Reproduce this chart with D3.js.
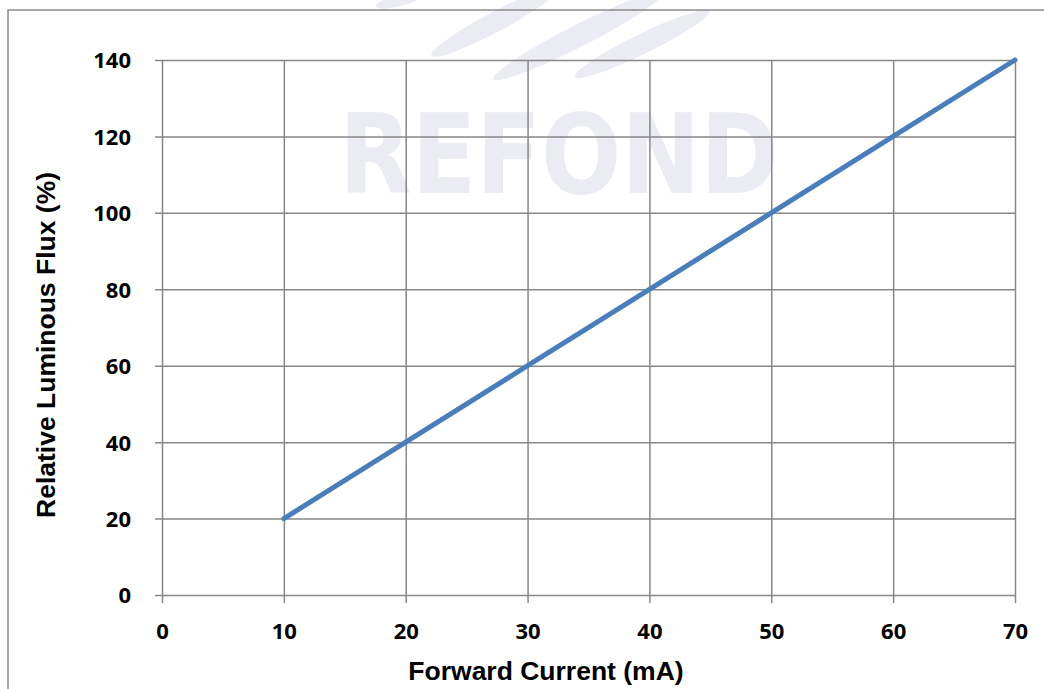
<!DOCTYPE html>
<html>
<head>
<meta charset="utf-8">
<script src="https://cdn.jsdelivr.net/npm/d3@7"></script>
<style>
  body { margin: 0; background: #fff; }
  svg { display: block; }
</style>
</head>
<body>
<div id="chart"></div>
<script>
// data
var currents = [10, 20, 30, 40, 50, 60, 70];        // Forward Current (mA)
var fluxValues = [20, 40, 60, 80, 100, 120, 140];   // Relative Luminous Flux (%)
var xTicks = [0, 10, 20, 30, 40, 50, 60, 70];
var yTicks = [0, 20, 40, 60, 80, 100, 120, 140];
var xTitle = "Forward Current (mA)";
var yTitle = "Relative Luminous Flux (%)";
var watermark = "REFOND";

var width = 1044, height = 689;
var margin = {top: 60, right: 29, bottom: 94, left: 162};

var svg = d3.select("#chart").append("svg")
    .attr("width", width)
    .attr("height", height);

//Watermark behind everything
var wm = svg.append("g").attr("fill", "#ebebf3");
wm.append("text")
    .attr("x", 339).attr("y", 193)
    .attr("textLength", 440)
    .attr("lengthAdjust", "spacingAndGlyphs")
    .style("font-family", "'DejaVu Sans Condensed', 'DejaVu Sans', sans-serif")
    .style("font-weight", "bold")
    .style("font-size", "110px")
    .text(watermark);
//leaf shapes above the letters
[[495, 22, 72, 10, -28], [578, 36, 95, 11, -27], [642, 44, 75, 10, -26], [400, 0, 25, 6, -15]].forEach(function(l){
  wm.append("ellipse")
    .attr("cx", l[0]).attr("cy", l[1]).attr("rx", l[2]).attr("ry", l[3])
    .attr("transform", "rotate(" + l[4] + "," + l[0] + "," + l[1] + ")");
});

//Outer frame
svg.append("rect")
    .attr("x", 8).attr("y", 10)
    .attr("width", width + 20).attr("height", height + 20)
    .attr("fill", "none")
    .attr("stroke", "#8a8a8a")
    .attr("stroke-width", 1.5);

var x = d3.scaleLinear()
    .domain([0, 70])
    .range([margin.left, width - margin.right]);
var y = d3.scaleLinear()
    .domain([0, 140])
    .range([height - margin.bottom, margin.top]);

//Horizontal grid with tick stubs on the left
svg.append("g")
    .attr("transform", "translate(" + (width - margin.right) + ",0)")
    .call(d3.axisLeft(y).tickValues(yTicks).tickSize(width - margin.right - margin.left + 7).tickFormat(""))
    .call(g => g.select(".domain").remove())
    .call(g => g.selectAll("line").attr("stroke", "#878787").attr("stroke-width", 1.5));

//Vertical grid with tick stubs at the bottom
svg.append("g")
    .attr("transform", "translate(0," + margin.top + ")")
    .call(d3.axisBottom(x).tickValues(xTicks).tickSize(height - margin.bottom - margin.top + 8).tickFormat(""))
    .call(g => g.select(".domain").remove())
    .call(g => g.selectAll("line").attr("stroke", "#878787").attr("stroke-width", 1.5));

//Tick labels
svg.append("g")
    .attr("transform", "translate(131,0)")
    .call(d3.axisLeft(y).tickValues(yTicks).tickSize(0).tickPadding(0))
    .call(g => g.select(".domain").remove())
    .call(g => g.selectAll("text")
        .attr("fill", "#000")
        .attr("dy", "0.36em")
        .style("font-family", "'Open Sans', Lato, sans-serif")
        .style("font-weight", "bold")
        .style("font-size", "22px"));

svg.append("g")
    .attr("transform", "translate(0,623)")
    .call(d3.axisBottom(x).tickValues(xTicks).tickSize(0).tickPadding(0))
    .call(g => g.select(".domain").remove())
    .call(g => g.selectAll("text")
        .attr("fill", "#000")
        .attr("dy", "0.72em")
        .style("font-family", "'Open Sans', Lato, sans-serif")
        .style("font-weight", "bold")
        .style("font-size", "22px"));

//Data line
var line = d3.line()
    .x((d, i) => x(currents[i]))
    .y(d => y(d));
svg.append("path")
    .datum(fluxValues)
    .attr("d", line)
    .attr("fill", "none")
    .attr("stroke", "#4a7ebb")
    .attr("stroke-width", 5)
    .attr("stroke-linecap", "round");

//Axis titles
svg.append("text")
    .attr("x", 546).attr("y", 680)
    .attr("text-anchor", "middle")
    .style("font-family", "'Liberation Sans', Arial, sans-serif")
    .style("font-weight", "bold")
    .style("font-size", "26.5px")
    .text(xTitle);

svg.append("text")
    .attr("transform", "translate(55,345) rotate(-90)")
    .attr("text-anchor", "middle")
    .style("font-family", "'Liberation Sans', Arial, sans-serif")
    .style("font-weight", "bold")
    .style("font-size", "26.5px")
    .text(yTitle);
</script>
</body>
</html>
